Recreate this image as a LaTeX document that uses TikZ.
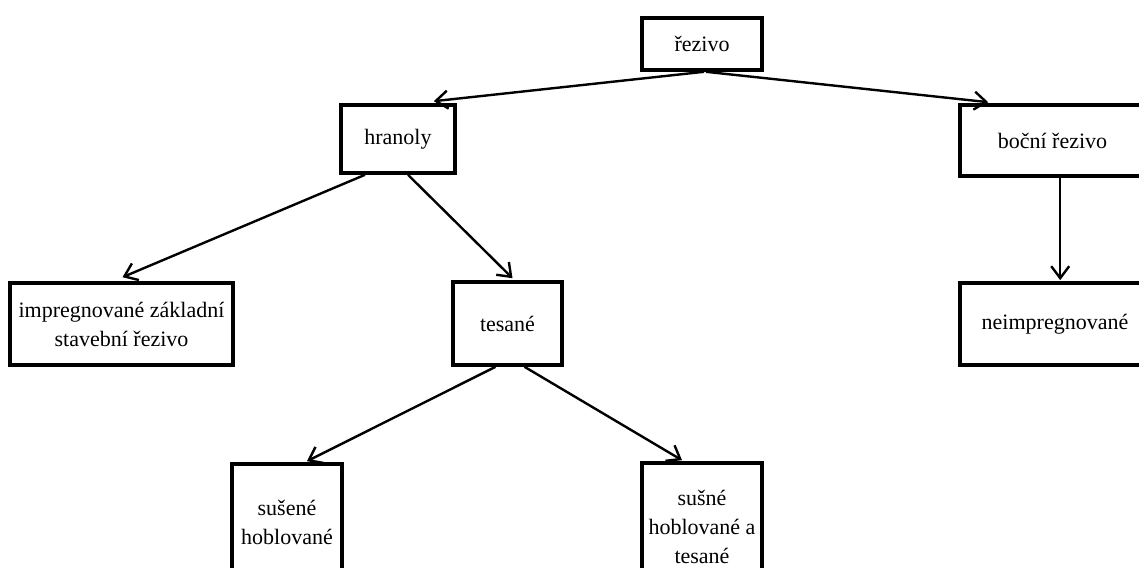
\documentclass[tikz,border=0pt]{standalone}
\usepackage{fontspec}
\setmainfont{Liberation Serif}
\usetikzlibrary{arrows.meta,calc}
\begin{document}
\begin{tikzpicture}[x=1pt,y=-1pt,
 box/.style={draw,line width=3.6pt,rectangle,inner sep=0pt,align=center,font=\fontsize{22}{29}\selectfont},
 arr/.style={-{Straight Barb[length=12pt,width=18pt,line width=2.4pt]},line width=2.4pt}]
\useasboundingbox (0,0) rectangle (1139,567);
\clip (0,0) rectangle (1139,567);
\fill[white] (0,0) rectangle (1139,567);
\node[box,minimum width=120pt,minimum height=52pt] (rez) at (702,44) {řezivo};
\node[box,minimum width=114pt,minimum height=68pt] (hran) at (398,139) {hranoly};
\node[box,minimum width=185pt,minimum height=71pt] (bocni) at (1052.5,140.5) {boční řezivo};
\node[box,minimum width=223pt,minimum height=82pt] (imp) at (121.5,324) {impregnované základní\\stavební řezivo};
\node[box,minimum width=109pt,minimum height=83pt] (tes) at (507.5,323.5) {tesané};
\node[box,minimum width=190pt,minimum height=82pt] (neimp) at (1055,324) {neimpregnované};
\node[box,minimum width=110pt,minimum height=117pt] (sus1) at (287,522.5) {sušené\\hoblované};
\node[box,minimum width=120pt,minimum height=128pt] (sus2) at (702,527) {sušné\\hoblované a\\tesané};
\draw[arr] ($(rez.south)+(2,0)$) -- ($(hran.north east)+(-23,-2)$);
\draw[arr] ($(rez.south)+(4,0)$) -- ($(bocni.north west)+(30,-1)$);
\draw[arr] ($(hran.south)+(-33,0)$) -- ($(imp.north)+(1,-4)$);
\draw[arr] ($(hran.south)+(10,0)$) -- ($(tes.north)+(5,-2)$);
\draw[arr] ($(bocni.south west)+(102,0)$) -- ($(neimp.north west)+(102,-1)$);
\draw[arr] ($(tes.south)+(-12,0)$) -- ($(sus1.north)+(20,-1)$);
\draw[arr] ($(tes.south)+(17,0)$) -- ($(sus2.north)+(-20,-1)$);
\end{tikzpicture}
\end{document}
